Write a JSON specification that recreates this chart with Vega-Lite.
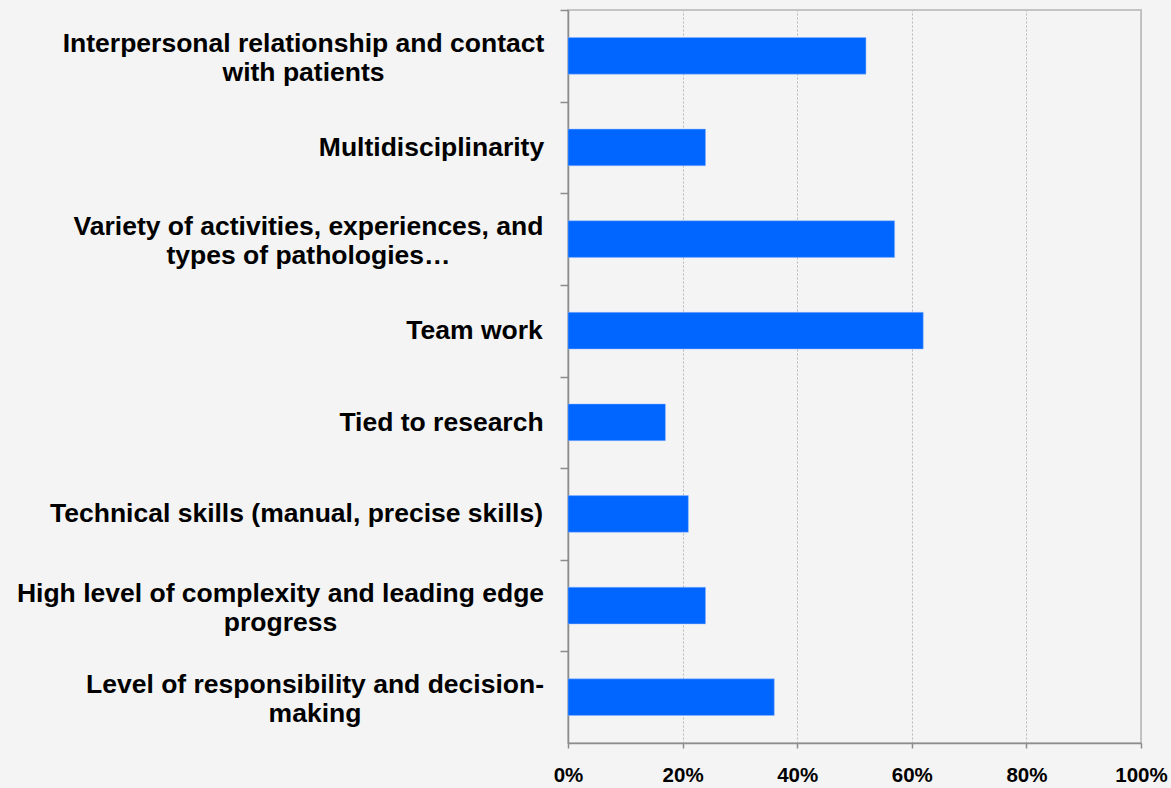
{
  "$schema": "https://vega.github.io/schema/vega-lite/v6.json",
  "autosize": {"type": "none"},
  "width": 573,
  "height": 733,
  "padding": {"left": 568, "top": 10, "right": 30, "bottom": 45},
  "background": "#f4f4f4",
  "data": {
    "values": [
      {"item": "Interpersonal relationship and contact\nwith patients", "share": 52},
      {"item": "Multidisciplinarity", "share": 24},
      {"item": "Variety of activities, experiences, and\ntypes of pathologies…", "share": 57},
      {"item": "Team work", "share": 62},
      {"item": "Tied to research", "share": 17},
      {"item": "Technical skills (manual, precise skills)", "share": 21},
      {"item": "High level of complexity and leading edge\nprogress", "share": 24},
      {"item": "Level of responsibility and decision-\nmaking", "share": 36}
    ]
  },
  "mark": {"type": "bar", "color": "#0066FF", "stroke": "#8fb8ff", "strokeWidth": 0.5},
  "encoding": {
    "y": {
      "field": "item",
      "type": "nominal",
      "sort": null,
      "scale": {"paddingInner": 0.6, "paddingOuter": 0.3},
      "axis": {
        "title": null,
        "tickSize": 8,
        "tickOffset": -45.8,
        "tickColor": "#8c8c8c",
        "tickWidth": 1.5,
        "domainColor": "#8c8c8c",
        "domainWidth": 1.5,
        "labelExpr": "split(datum.value, '\\n')",
        "labelFont": "Liberation Sans",
        "labelFontWeight": "bold",
        "labelFontSize": 26.5,
        "labelLineHeight": 29,
        "labelColor": "#000000",
        "labelAlign": "center",
        "labelBaseline": "middle",
        "labelLimit": 0,
        "labelOffset": {
          "condition": {"test": "indexof(datum.value, '\\n') >= 0", "value": 33.3},
          "value": 45.8
        },
        "labelPadding": {
          "condition": [
            {"test": "indexof(datum.value, 'Interpersonal') == 0", "value": 257},
            {"test": "indexof(datum.value, 'Multidisciplinarity') == 0", "value": 129},
            {"test": "indexof(datum.value, 'Variety') == 0", "value": 252},
            {"test": "indexof(datum.value, 'Team') == 0", "value": 86},
            {"test": "indexof(datum.value, 'Tied') == 0", "value": 119},
            {"test": "indexof(datum.value, 'Technical') == 0", "value": 264},
            {"test": "indexof(datum.value, 'High') == 0", "value": 280}
          ],
          "value": 245.5
        }
      }
    },
    "x": {
      "field": "share",
      "type": "quantitative",
      "scale": {"domain": [0, 100], "nice": false},
      "axis": {
        "title": null,
        "values": [0, 20, 40, 60, 80, 100],
        "labelExpr": "datum.value + '%'",
        "labelFont": "Liberation Sans",
        "labelFontWeight": "bold",
        "labelFontSize": 20.5,
        "labelColor": "#000000",
        "labelPadding": 17,
        "tickSize": 5,
        "tickColor": "#8c8c8c",
        "tickWidth": 1.5,
        "domainColor": "#8c8c8c",
        "domainWidth": 1.5,
        "grid": true,
        "gridColor": "#b8b8b8",
        "gridDash": [2, 2],
        "gridWidth": 1
      }
    }
  },
  "config": {
    "view": {"stroke": "#c4c4c4", "strokeWidth": 2},
    "axis": {"labelFlush": false}
  }
}
